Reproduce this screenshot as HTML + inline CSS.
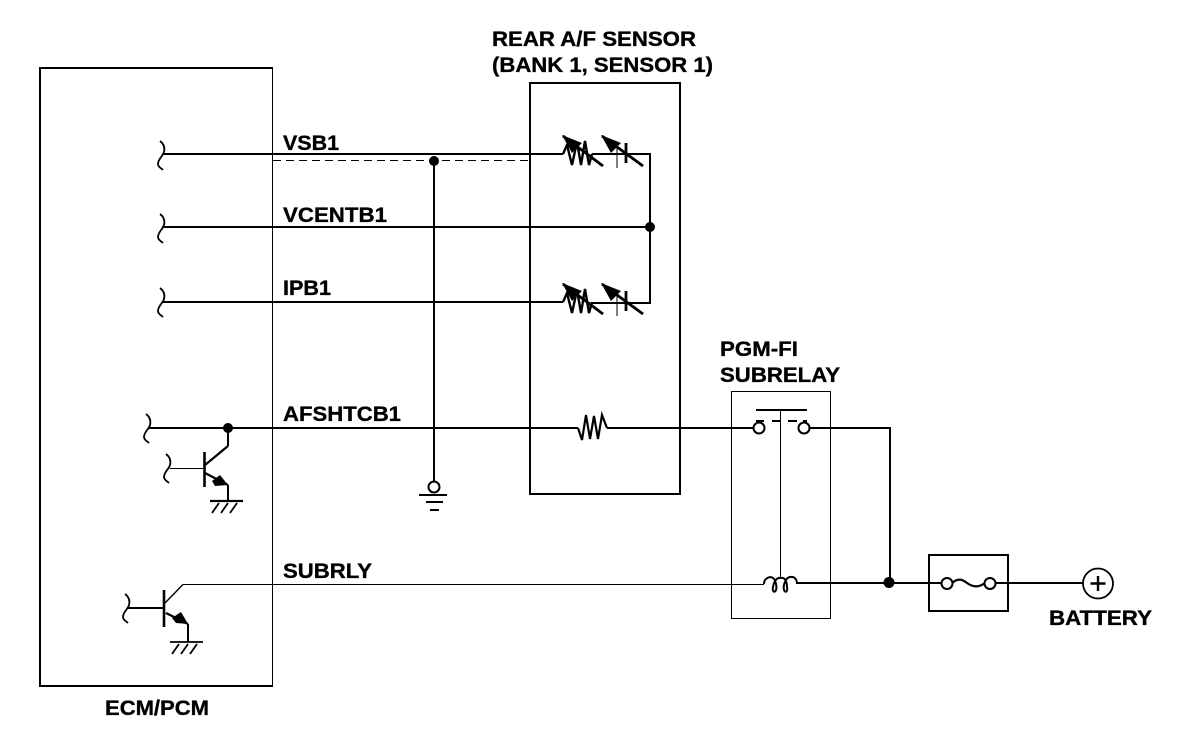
<!DOCTYPE html>
<html>
<head>
<meta charset="utf-8">
<style>
html,body{margin:0;padding:0;background:#fff}
svg{display:block}
text{font-family:"Liberation Sans",sans-serif;font-weight:bold;font-size:21px;fill:#000;stroke:#000;stroke-width:.35px}
</style>
</head>
<body>
<svg width="1184" height="736" viewBox="0 0 1184 736" xmlns="http://www.w3.org/2000/svg">
<defs>
<path id="sq" d="M0 0 C4 3 5 7 4 11 C3 15 -2 18 -2 23 C-2 26 1 27 3 29" fill="none" stroke="#000" stroke-width="1.8"/>
<g id="sens">
<path d="M563 0 L567 -9 L572 11 L577 -12 L581 11 L585 -13 L589 11 L592 0" fill="none" stroke="#000" stroke-width="2.4"/>
<path d="M563 -18 L603 12" stroke="#000" stroke-width="2.8"/>
<path d="M562 -19 L582 -11 L572 -1 Z" fill="#000"/>
<path d="M602 -18 L643 12" stroke="#000" stroke-width="2.8"/>
<path d="M601 -19 L621 -11 L611 -1 Z" fill="#000"/>
<path d="M617 -9 V14" stroke="#000" stroke-width="1"/>
<path d="M626 -11 V9" stroke="#000" stroke-width="2.8"/>
</g>
</defs>
<g fill="none" stroke="#000" shape-rendering="crispEdges">
<path d="M272.500 68 V686" stroke-width="1"/>
<path d="M273 68 H40 V686 H273" stroke-width="2"/>
<rect x="530" y="83" width="150" height="411" stroke-width="2"/>
<rect x="731.500" y="391.500" width="99" height="227" stroke-width="1"/>
<rect x="929" y="555" width="79" height="56" stroke-width="2"/>
</g>
<g fill="none" stroke="#000" stroke-width="2" shape-rendering="crispEdges">
<path d="M162 154 H563"/>
<path d="M592 154 H650 V303 H592"/>
<path d="M162 227 H650"/>
<path d="M162 302 H563"/>
<path d="M148 428 H578"/>
<path d="M607 428 H754"/>
<path d="M809 428 H890 V583"/>
<path d="M797 583 H942"/>
<path d="M995 583 H1083"/>
<path d="M434 160 V482"/>
<path d="M756 410 H807"/>
<path d="M228 428 V446"/>
<path d="M228 485 V501"/>
<path d="M188 624 V642"/>
<path d="M128 608 H164"/>
<path d="M419 495 H447"/>
<path d="M430 510 H439"/>
<path d="M426 502 H443"/>
<path d="M756 421 H764 M772 421 H781 M788 421 H797 M803 421 H807"/>
</g>
<g fill="none" stroke="#000" stroke-width="1" shape-rendering="crispEdges">
<path d="M273 160.500 H530" stroke-dasharray="8 5"/>
<path d="M170 468.500 H204"/>
<path d="M183 584.500 H764"/>
<path d="M780.500 410 V577"/>
</g>
<use href="#sq" x="160" y="141"/>
<use href="#sq" x="160" y="214"/>
<use href="#sq" x="160" y="288"/>
<use href="#sq" x="146" y="414"/>
<use href="#sq" x="166" y="454"/>
<use href="#sq" x="125" y="594"/>
<use href="#sens" y="154"/>
<use href="#sens" y="302"/>
<path d="M578 428 L582 440 L586 415 L590 439 L594 416 L598 439 L602 415 L607 428" fill="none" stroke="#000" stroke-width="2.200"/>
<circle cx="434" cy="161" r="5" fill="#000"/>
<circle cx="650" cy="227" r="5" fill="#000"/>
<circle cx="228" cy="428" r="5" fill="#000"/>
<circle cx="889" cy="582.500" r="5.500" fill="#000"/>
<g fill="none" stroke="#000" stroke-width="2.200">
<path d="M204.500 452 V487" stroke-width="2.600"/>
<path d="M205 465 L228 446"/>
<path d="M205 473 L228 485"/>
<path d="M210 501 H243" stroke-width="2.200"/>
<path d="M212 513 L219 503 M221 513 L228 503 M230 513 L237 503" stroke-width="1.800"/>
<path d="M164 590 V627" stroke-width="2.600"/>
<path d="M165 603 L183 584.500" stroke-width="1.400"/>
<path d="M166 613 L188 624"/>
<path d="M170 642 H203" stroke-width="1.800"/>
<path d="M172 654 L179 644 M181 654 L188 644 M190 654 L197 644" stroke-width="1.800"/>
</g>
<path d="M212 481 L220 475 L228 485 L215 486 Z" fill="#000"/>
<path d="M172 618 L181 612 L188 624 L176 623 Z" fill="#000"/>
<g fill="#fff" stroke="#000" stroke-width="2">
<circle cx="434" cy="487" r="5.500"/>
<circle cx="759" cy="428" r="5.500"/>
<circle cx="804" cy="428" r="5.500"/>
<circle cx="947" cy="583.500" r="5.500"/>
<circle cx="990" cy="583.500" r="5.500"/>
<circle cx="1098" cy="583.500" r="15" stroke-width="1.800"/>
</g>
<path d="M952 583 C958 578 962 579 967 583 C973 587 978 588 985 583" fill="none" stroke="#000" stroke-width="2.200"/>
<path d="M1098 576 V591 M1090.500 583.500 H1105.500" stroke="#000" stroke-width="2.400"/>
<path d="M764 584 C764 578 770 576 773 578 C776 580 777 588 776 590 C775 593 772 592 773 587 C774 581 777 577 781 578 C785 577 787 582 787 587 C788 592 785 593 784 590 C783 586 785 578 790 577 C795 576 797 580 797 584" fill="none" stroke="#000" stroke-width="2"/>
<text x="492" y="46" textLength="204" lengthAdjust="spacingAndGlyphs">REAR A/F SENSOR</text>
<text x="492" y="72" textLength="221" lengthAdjust="spacingAndGlyphs">(BANK 1, SENSOR 1)</text>
<text x="283" y="150" textLength="56" lengthAdjust="spacingAndGlyphs">VSB1</text>
<text x="283" y="222" textLength="104" lengthAdjust="spacingAndGlyphs">VCENTB1</text>
<text x="283" y="295" textLength="48" lengthAdjust="spacingAndGlyphs">IPB1</text>
<text x="283" y="421" textLength="118" lengthAdjust="spacingAndGlyphs">AFSHTCB1</text>
<text x="283" y="578" textLength="89" lengthAdjust="spacingAndGlyphs">SUBRLY</text>
<text x="720" y="356" textLength="78" lengthAdjust="spacingAndGlyphs">PGM-FI</text>
<text x="720" y="382" textLength="120" lengthAdjust="spacingAndGlyphs">SUBRELAY</text>
<text x="1049" y="625" textLength="103" lengthAdjust="spacingAndGlyphs">BATTERY</text>
<text x="105" y="715" textLength="104" lengthAdjust="spacingAndGlyphs">ECM/PCM</text>
</svg>
</body>
</html>
